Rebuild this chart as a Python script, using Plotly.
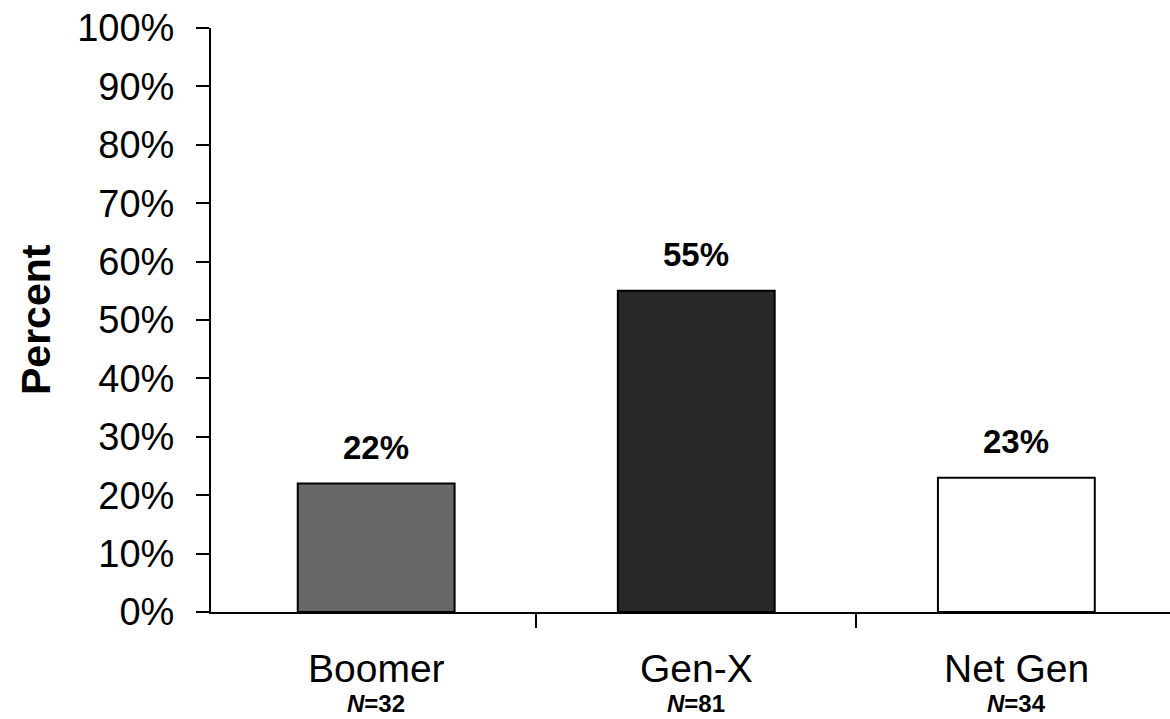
import plotly.graph_objects as go

categories = ["Boomer", "Gen-X", "Net Gen"]
sample_sizes = [32, 81, 34]
percent_values = [22, 55, 23]
bar_colors = ["#686868", "#282828", "#ffffff"]
y_tick_values = [0, 10, 20, 30, 40, 50, 60, 70, 80, 90, 100]
y_tick_labels = [f"{v}%" for v in y_tick_values]

x_pos = list(range(len(categories)))

fig = go.Figure()
fig.add_trace(go.Bar(
    x=x_pos, y=percent_values, width=0.49,
    marker=dict(color=bar_colors, line=dict(color="black", width=2)),
    hoverinfo="skip", showlegend=False,
))

annotations = []
for i, (c, n, v) in enumerate(zip(categories, sample_sizes, percent_values)):
    annotations.append(dict(
        x=i, y=v, xref="x", yref="y", text=f"<b>{v}%</b>", showarrow=False,
        yanchor="bottom", yshift=16,
        font=dict(family="Liberation Sans, Arial", size=33, color="black"),
    ))
    annotations.append(dict(
        x=i, y=0, xref="x", yref="paper", text=c, showarrow=False,
        yanchor="middle", yshift=-56, borderpad=0,
        font=dict(family="Liberation Sans, Arial", size=39, color="black"),
    ))
    annotations.append(dict(
        x=i, y=0, xref="x", yref="paper", text=f"<b><i>N</i>={n}</b>", showarrow=False,
        yanchor="bottom", yshift=-106, borderpad=0,
        font=dict(family="Liberation Sans, Arial", size=24, color="black"),
    ))
annotations.append(dict(
    x=0, y=0.5, xref="paper", yref="paper", text="<b>Percent</b>", showarrow=False,
    textangle=-90, xshift=-175, xanchor="center", yanchor="middle",
    font=dict(family="Liberation Sans, Arial", size=41, color="black"),
))

fig.update_layout(
    width=1170, height=719,
    margin=dict(l=211, r=0, t=28, b=107),
    paper_bgcolor="white", plot_bgcolor="white",
    annotations=annotations,
    xaxis=dict(
        range=[-0.516, 2.48], showgrid=False, zeroline=False,
        showline=True, linecolor="black", linewidth=2,
        tickvals=x_pos, ticktext=["" for _ in categories], ticks="",
        minor=dict(tickmode="array", tickvals=[0.5, 1.5], ticks="outside",
                   ticklen=14, tickwidth=2, tickcolor="black", showgrid=False),
    ),
    yaxis=dict(
        range=[0, 100], showgrid=False, zeroline=False,
        showline=True, linecolor="black", linewidth=2,
        tickmode="array", tickvals=y_tick_values, ticktext=y_tick_labels,
        ticks="outside", ticklen=13, tickwidth=2, tickcolor="black",
        ticklabelstandoff=14,
        tickfont=dict(family="Liberation Sans, Arial", size=38, color="black"),
    ),
)

fig.write_html("out.html")
